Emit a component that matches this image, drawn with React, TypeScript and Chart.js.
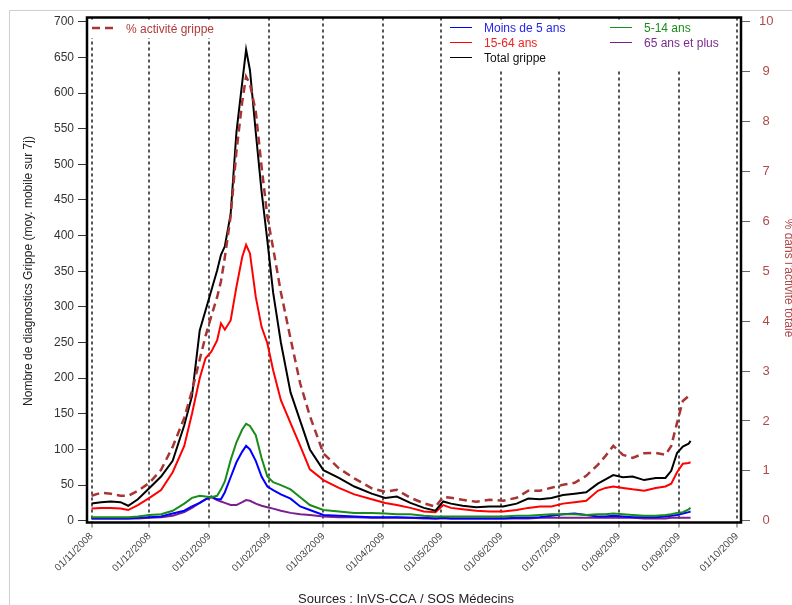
import React, { useEffect, useRef } from 'react';
import { Chart, registerables } from 'chart.js';

Chart.register(...registerables);

// days since 01/11/2008
const days = [0,5,10,15,19, 24,30,36,42,48, 52,56,59,62,65, 67,69,72,75,78, 80,82,85,88,91, 94,98,103,108,113, 120,128,136,145,152, 158,165,172,178,182, 186,192,199,206,213, 220,226,232,238,244, 250,256,262,266,270, 275,280,286,292,297, 300,303,306,309,310];

const totalGrippe = [24,26,27,26,21, 30,46,62,84,134, 175,267,295,323,351, 373,385,430,545,615, 661,632,545,462,393, 320,250,180,140,100, 71,60,48,38,32, 34,25,18,14,27, 24,21,19,20,20, 24,31,30,32,36, 38,40,52,58,64, 61,62,57,60,60, 70,95,104,108,112];
const age15to64 = [17,18,18,17,15, 22,32,43,68,105, 150,200,228,237,253, 277,268,281,328,370, 387,375,314,272,249, 211,169,137,105,72, 57,46,37,30,25, 22,18,13,12,22, 18,16,14,13,13, 15,18,20,20,24, 26,28,42,46,48, 46,44,42,46,48, 52,68,80,81,82];
const age5to14 = [5,5,5,5,5, 6,8,9,14,24, 32,35,34,33,35, 44,55,85,110,128, 136,133,120,88,62, 54,50,44,33,22, 15,13,11,11,10, 9,9,7,6,6, 6,6,6,6,6, 7,7,8,9,9, 9,8,9,9,10, 9,8,7,7,8, 9,11,12,16,18];
const under5 = [3,3,3,3,3, 4,5,6,10,14, 20,25,30,34,30, 30,40,61,82,97, 105,100,84,62,48, 43,37,31,20,15, 8,7,6,5,5, 5,4,4,3,4, 3,3,3,3,3, 4,4,5,7,9, 10,8,6,6,7, 6,5,5,5,6, 7,8,10,12,13];
const over65 = [3,3,3,3,3, 3,4,5,7,12, 18,25,30,33,29, 27,25,22,22,26, 29,28,24,21,19, 17,14,11,9,8, 6,5,5,4,4, 4,4,3,3,3, 3,3,3,3,3, 3,3,4,4,4, 4,4,4,4,4, 4,4,3,3,3, 4,4,4,4,4];
const pctActivite = [0.5,0.56,0.54,0.5,0.5, 0.6,0.76,1.02,1.48,2.06, 2.6,3.23,3.7,4.1,4.48, 4.8,5.28,6.1,7.4,8.4, 8.9,8.75,8.2,7.1,6.1, 5.46,4.58,3.65,2.75,2.1, 1.35,1.05,0.85,0.65,0.58, 0.62,0.46,0.35,0.28,0.48, 0.46,0.42,0.38,0.42,0.4, 0.46,0.6,0.6,0.66,0.72, 0.76,0.9,1.12,1.3,1.5, 1.32,1.26,1.35,1.36,1.32, 1.5,1.96,2.4,2.5,2.52];

const monthDays = [0,30,61,92,120,151,181,212,242,273,304,334];
const monthLabels = ['01/11/2008','01/12/2008','01/01/2009','01/02/2009','01/03/2009','01/04/2009','01/05/2009','01/06/2009','01/07/2009','01/08/2009','01/09/2009','01/10/2009'];
const leftTicks = [0,50,100,150,200,250,300,350,400,450,500,550,600,650,700];
const rightTicks = [0,1,2,3,4,5,6,7,8,9,10];

const FONT = '"Liberation Sans", Arial, sans-serif';
const C_BLUE = '#0000FF';
const C_GREEN = '#1A8C1A';
const C_RED = '#FF0000';
const C_PURPLE = '#7B1F8F';
const C_BLACK = '#000000';
const C_DASH = '#A83434';

const pts = (arr: number[]) => days.map((d, i) => ({ x: d, y: arr[i] }));

const decor = {
  id: 'decor',
  beforeDraw(chart: any) {
    const ctx = chart.ctx;
    ctx.save();
    ctx.fillStyle = '#fff';
    ctx.fillRect(0, 0, chart.width, chart.height);
    ctx.strokeStyle = '#cfcfcf';
    ctx.lineWidth = 1;
    ctx.beginPath();
    ctx.moveTo(9.5, chart.height);
    ctx.lineTo(9.5, 10.5);
    ctx.lineTo(chart.width, 10.5);
    ctx.stroke();
    ctx.restore();
  },
  beforeDatasetsDraw(chart: any) {
    const ctx = chart.ctx;
    const a = chart.chartArea;
    ctx.save();
    ctx.fillStyle = '#fff';
    // legend backgrounds hide the dotted grid lines
    ctx.fillRect(a.left + 4, a.top + 2, 232 - a.left - 4, 38 - a.top - 2);
    ctx.fillRect(446, a.top + 2, 735 - 446, 71 - a.top - 2);
    ctx.restore();
  },
  afterDraw(chart: any) {
    const ctx = chart.ctx;
    const a = chart.chartArea;
    ctx.save();
    // plot box
    ctx.strokeStyle = '#000';
    ctx.lineWidth = 2.5;
    ctx.strokeRect(a.left, a.top, a.right - a.left, a.bottom - a.top);

    // left legend
    ctx.strokeStyle = C_DASH;
    ctx.lineWidth = 2.5;
    ctx.setLineDash([8, 5]);
    ctx.beginPath();
    ctx.moveTo(92, 28);
    ctx.lineTo(117, 28);
    ctx.stroke();
    ctx.setLineDash([]);
    ctx.font = `12px ${FONT}`;
    ctx.textBaseline = 'middle';
    ctx.textAlign = 'left';
    ctx.fillStyle = '#B03A3A';
    ctx.fillText('% activité grippe', 126, 30);

    // right legend
    const rows: [number, number, string, string, string][] = [
      [450, 27, C_BLUE, 'Moins de 5 ans', '#2525E8'],
      [610, 27, C_GREEN, '5-14 ans', '#1A8C1A'],
      [450, 42, C_RED, '15-64 ans', '#EE2222'],
      [610, 42, C_PURPLE, '65 ans et plus', '#7B2A8F'],
      [450, 57, C_BLACK, 'Total grippe', '#111'],
    ];
    rows.forEach(([x, y, lc, label, tc]) => {
      ctx.strokeStyle = lc;
      ctx.lineWidth = 1;
      ctx.beginPath();
      ctx.moveTo(x, y + 0.5);
      ctx.lineTo(x + 22, y + 0.5);
      ctx.stroke();
      ctx.fillStyle = tc;
      ctx.fillText(label, x + 34, y + 2);
    });

    // left axis title
    ctx.save();
    ctx.translate(29, 271);
    ctx.rotate(-Math.PI / 2);
    ctx.textAlign = 'center';
    ctx.fillStyle = '#222';
    ctx.font = `12px ${FONT}`;
    ctx.fillText('Nombre de diagnostics Grippe (moy. mobile sur 7j)', 0, 0);
    ctx.restore();

    // right axis title
    ctx.save();
    ctx.translate(788, 278);
    ctx.rotate(Math.PI / 2);
    ctx.textAlign = 'center';
    ctx.fillStyle = '#B04A4A';
    ctx.font = `12px ${FONT}`;
    ctx.fillText('% dans l\u2019activité totale', 0, 0);
    ctx.restore();

    // sources
    ctx.textAlign = 'left';
    ctx.fillStyle = '#222';
    ctx.font = `13px ${FONT}`;
    ctx.fillText('Sources : InVS-CCA / SOS Médecins', 298, 599);
    ctx.restore();
  },
};

export default function App() {
  const ref = useRef<HTMLCanvasElement | null>(null);
  useEffect(() => {
    if (!ref.current) return;
    const lineDs = (label: string, data: number[], color: string, order: number) => ({
      label,
      data: pts(data),
      borderColor: color,
      backgroundColor: color,
      borderWidth: 2,
      pointRadius: 0,
      tension: 0,
      fill: false,
      yAxisID: 'y',
      order,
    });
    const chart = new Chart(ref.current, {
      type: 'line',
      data: {
        datasets: [
          {
            label: '% activité grippe',
            data: pts(pctActivite),
            borderColor: C_DASH,
            borderWidth: 2.5,
            borderDash: [8, 5],
            pointRadius: 0,
            tension: 0,
            fill: false,
            yAxisID: 'y1',
            order: 0,
          } as any,
          lineDs('Total grippe', totalGrippe, C_BLACK, 1),
          lineDs('15-64 ans', age15to64, C_RED, 2),
          lineDs('5-14 ans', age5to14, C_GREEN, 3),
          lineDs('Moins de 5 ans', under5, C_BLUE, 4),
          lineDs('65 ans et plus', over65, C_PURPLE, 5),
        ],
      },
      options: {
        responsive: false,
        animation: false,
        devicePixelRatio: 1,
        layout: { padding: { top: 17.5, left: 0, right: 0, bottom: 0 } },
        plugins: { legend: { display: false }, tooltip: { enabled: false } },
        scales: {
          x: {
            type: 'linear',
            min: -2.33,
            max: 336.1,
            afterBuildTicks: (s: any) => {
              s.ticks = monthDays.map((v) => ({ value: v }));
            },
            afterFit: (s: any) => {
              s.height = 82.5;
            },
            ticks: {
              autoSkip: false,
              minRotation: 45,
              maxRotation: 45,
              padding: 3,
              color: '#444',
              font: { family: FONT, size: 10 },
              callback: (v: any) => {
                const i = monthDays.indexOf(Number(v));
                return i >= 0 ? monthLabels[i] : '';
              },
            },
            grid: {
              display: true,
              drawOnChartArea: true,
              color: '#555',
              lineWidth: 2,
              tickLength: 5,
              tickColor: '#555',
              tickWidth: 1,
            },
            border: { display: false, dash: [3, 3] },
          },
          y: {
            type: 'linear',
            position: 'left',
            min: -2.5,
            max: 706,
            afterBuildTicks: (s: any) => {
              s.ticks = leftTicks.map((v) => ({ value: v }));
            },
            afterFit: (s: any) => {
              s.width = 87;
            },
            ticks: {
              color: '#333',
              padding: 4,
              font: { family: FONT, size: 12 },
            },
            grid: {
              drawOnChartArea: false,
              drawTicks: true,
              tickLength: 9,
              color: '#333',
              tickColor: '#333',
            },
            border: { display: false },
          },
          y1: {
            type: 'linear',
            position: 'right',
            min: -2.5 / 70,
            max: 706 / 70,
            afterBuildTicks: (s: any) => {
              s.ticks = rightTicks.map((v) => ({ value: v }));
            },
            afterFit: (s: any) => {
              s.width = 51;
            },
            ticks: {
              color: '#B04A4A',
              padding: 9,
              crossAlign: 'center',
              font: { family: FONT, size: 13 },
            },
            grid: {
              drawOnChartArea: false,
              drawTicks: true,
              tickLength: 9,
              color: '#666',
              tickColor: '#666',
            },
            border: { display: false },
          },
        },
      } as any,
      plugins: [decor],
    });
    return () => chart.destroy();
  }, []);
  return (
    <div style={{ position: 'absolute', left: 0, top: 0, width: 792, height: 605, background: '#fff' }}>
      <canvas ref={ref} width={792} height={605} style={{ display: 'block' }} />
    </div>
  );
}
